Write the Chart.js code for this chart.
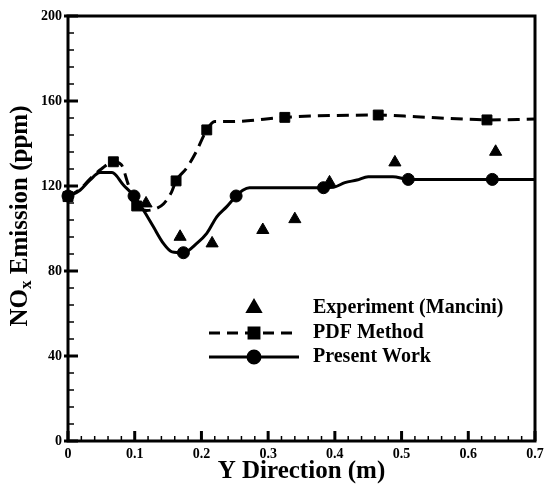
<!DOCTYPE html>
<html>
<head>
<meta charset="utf-8">
<script src="https://cdn.jsdelivr.net/npm/chart.js@4"></script>
<style>
  html, body { margin: 0; padding: 0; background: #fff; }
  #wrap { width: 544px; height: 484px; }
</style>
</head>
<body>
<div id="wrap"><canvas id="chart"></canvas></div>
<script>
const seriesLabels = ["Experiment (Mancini)", "PDF Method", "Present Work"];

const xTicks = [0, 0.1, 0.2, 0.3, 0.4, 0.5, 0.6, 0.7];
const yTicks = [0, 40, 80, 120, 160, 200];
const xMinorStep = 0.02;
const yMinorStep = 8;

// experiment (triangles)
const experimentX = [0.117, 0.168, 0.216, 0.292, 0.34, 0.392, 0.49, 0.641];
const experimentY = [111.8, 96.1, 93.0, 99.3, 104.4, 121.7, 131.1, 136.1];

// PDF method curve + square markers
const pdfCurveX = [0, 0.018, 0.035, 0.05, 0.068, 0.08, 0.09, 0.103, 0.118, 0.133, 0.143, 0.155, 0.162, 0.178, 0.192, 0.208, 0.22, 0.243, 0.325, 0.363, 0.465, 0.522, 0.592, 0.63, 0.7];
const pdfCurveY = [115, 118.5, 124, 128, 131.4, 130, 121, 110.6, 108.5, 109.5, 111.5, 117, 122.4, 128.5, 136, 146.4, 150.3, 150.3, 152.3, 152.9, 153.4, 152.6, 151.5, 151.1, 151.5];
const pdfMarkX = [0, 0.068, 0.103, 0.162, 0.208, 0.325, 0.465, 0.628];
const pdfMarkY = [115, 131.4, 110.6, 122.4, 146.4, 152.3, 153.4, 151.1];

// present work curve + circle markers
const presentCurveX = [0, 0.018, 0.033, 0.048, 0.066, 0.083, 0.099, 0.113, 0.128, 0.143, 0.156, 0.173, 0.193, 0.208, 0.223, 0.238, 0.252, 0.262, 0.272, 0.383, 0.398, 0.415, 0.433, 0.45, 0.487, 0.51, 0.7];
const presentCurveY = [115, 118, 122.8, 126.3, 126.3, 120.5, 115.3, 108.7, 100.8, 93, 89, 88.6, 93, 97.7, 105.5, 110.3, 115.3, 118, 119.2, 119.2, 119.4, 121.6, 122.8, 124.4, 124.4, 123.1, 123.1];
const presentMarkX = [0, 0.099, 0.173, 0.252, 0.383, 0.51, 0.636];
const presentMarkY = [115.3, 115.3, 88.6, 115.3, 119.2, 123.1, 123.1];

const pts = (xs, ys) => xs.map((x, i) => ({ x, y: ys[i] }));

const serif = "'Liberation Serif', 'Times New Roman', serif";

const decorPlugin = {
  id: "decor",
  afterDatasetsDraw(chart) {
    const { ctx, chartArea: a, scales } = chart;
    const xs = scales.x;
    const ys = scales.y;
    const seg = (x1, y1, x2, y2) => {
      ctx.beginPath();
      ctx.moveTo(x1, y1);
      ctx.lineTo(x2, y2);
      ctx.stroke();
    };
    ctx.save();
    ctx.strokeStyle = "#000";
    ctx.fillStyle = "#000";

    // minor ticks, pointing inward
    ctx.lineWidth = 1.5;
    for (let v = 0; v <= 0.7 + 1e-9; v += xMinorStep) {
      const px = xs.getPixelForValue(v);
      seg(px, a.bottom, px, a.bottom - 5);
    }
    for (let v = 0; v <= 200; v += yMinorStep) {
      const py = ys.getPixelForValue(v);
      seg(a.left, py, a.left + 6, py);
    }
    // major ticks
    ctx.lineWidth = 3;
    xTicks.forEach((v) => {
      const px = xs.getPixelForValue(v);
      seg(px, a.bottom, px, a.bottom - 10);
    });
    yTicks.forEach((v) => {
      const py = ys.getPixelForValue(v);
      seg(a.left - 4, py, a.left + 10, py);
    });
    // frame
    ctx.strokeRect(a.left, a.top, a.right - a.left, a.bottom - a.top);

    // legend
    const rows = [308, 333, 357];
    const lx1 = 209, lx2 = 299, mx = 254, tx = 313;
    ctx.font = "bold 20px " + serif;
    ctx.textBaseline = "middle";
    ctx.textAlign = "left";
    rows.forEach((ry, i) => {
      const ds = chart.data.datasets;
      if (i === 1) {
        ctx.setLineDash([11, 7]);
        ctx.lineWidth = 3;
        seg(lx1, ry, lx2, ry);
        ctx.setLineDash([]);
      } else if (i === 2) {
        ctx.lineWidth = 3;
        seg(lx1, ry, lx2, ry);
      }
      const markDs = ds.find((d) => d.label === seriesLabels[i] && d.showLine === false);
      Chart.helpers.drawPoint(ctx, {
        pointStyle: markDs.pointStyle,
        radius: markDs.pointRadius,
        borderWidth: 1,
      }, mx, ry);
      ctx.fill();
      ctx.fillText(seriesLabels[i], tx, ry);
    });

    // y axis title with subscript
    ctx.translate(21, 216);
    ctx.rotate(-Math.PI / 2);
    const big = "bold 25px " + serif;
    const small = "bold 17px " + serif;
    ctx.font = big;
    const w1 = ctx.measureText("NO").width;
    const w3 = ctx.measureText(" Emission (ppm)").width;
    ctx.font = small;
    const w2 = ctx.measureText("x").width;
    let sx = -(w1 + w2 + w3) / 2;
    ctx.font = big;
    ctx.fillText("NO", sx, 0);
    ctx.font = small;
    ctx.fillText("x", sx + w1, 6);
    ctx.font = big;
    ctx.fillText(" Emission (ppm)", sx + w1 + w2, 0);
    ctx.restore();
  },
};

document.addEventListener("DOMContentLoaded", () => {
  new Chart(document.getElementById("chart").getContext("2d"), {
    type: "scatter",
    data: {
      datasets: [
        {
          label: seriesLabels[0],
          data: pts(experimentX, experimentY),
          showLine: false,
          pointStyle: "triangle",
          pointRadius: 7,
          backgroundColor: "#000",
          borderColor: "#000",
          borderWidth: 1,
          clip: false,
        },
        {
          label: seriesLabels[1] + " curve",
          data: pts(pdfCurveX, pdfCurveY),
          showLine: true,
          pointRadius: 0,
          borderColor: "#000",
          borderWidth: 3,
          borderDash: [12, 7],
          cubicInterpolationMode: "monotone",
          clip: false,
        },
        {
          label: seriesLabels[1],
          data: pts(pdfMarkX, pdfMarkY),
          showLine: false,
          pointStyle: "rect",
          pointRadius: 7,
          backgroundColor: "#000",
          borderColor: "#000",
          borderWidth: 1,
          clip: false,
        },
        {
          label: seriesLabels[2] + " curve",
          data: pts(presentCurveX, presentCurveY),
          showLine: true,
          pointRadius: 0,
          borderColor: "#000",
          borderWidth: 3,
          cubicInterpolationMode: "monotone",
          clip: false,
        },
        {
          label: seriesLabels[2],
          data: pts(presentMarkX, presentMarkY),
          showLine: false,
          pointStyle: "circle",
          pointRadius: 6,
          backgroundColor: "#000",
          borderColor: "#000",
          borderWidth: 1,
          clip: false,
        },
      ],
    },
    options: {
      animation: false,
      responsive: true,
      maintainAspectRatio: false,
      layout: { padding: { top: 16, right: 0, left: 0, bottom: 0 } },
      plugins: { legend: { display: false }, tooltip: { enabled: false } },
      scales: {
        x: {
          type: "linear",
          min: 0,
          max: 0.7,
          afterBuildTicks: (s) => { s.ticks = xTicks.map((v) => ({ value: v })); },
          afterFit: (s) => {
            s.height = 43;
            s.paddingLeft = 0;
            s.paddingRight = 9;
          },
          grid: { display: false, drawTicks: false, tickLength: 0 },
          border: { display: false },
          ticks: {
            color: "#000",
            padding: 5,
            maxRotation: 0,
            font: { family: serif, weight: "bold", size: 14 },
          },
          title: {
            display: true,
            text: "Y Direction (m)",
            color: "#000",
            padding: 0,
            font: { family: serif, weight: "bold", size: 25, lineHeight: 1 },
          },
        },
        y: {
          type: "linear",
          min: 0,
          max: 200,
          afterBuildTicks: (s) => { s.ticks = yTicks.map((v) => ({ value: v })); },
          afterFit: (s) => { s.width = 68; },
          grid: { display: false, drawTicks: false, tickLength: 0 },
          border: { display: false },
          ticks: {
            color: "#000",
            padding: 6,
            font: { family: serif, weight: "bold", size: 14 },
          },
        },
      },
    },
    plugins: [decorPlugin],
  });
});
</script>
</body>
</html>
